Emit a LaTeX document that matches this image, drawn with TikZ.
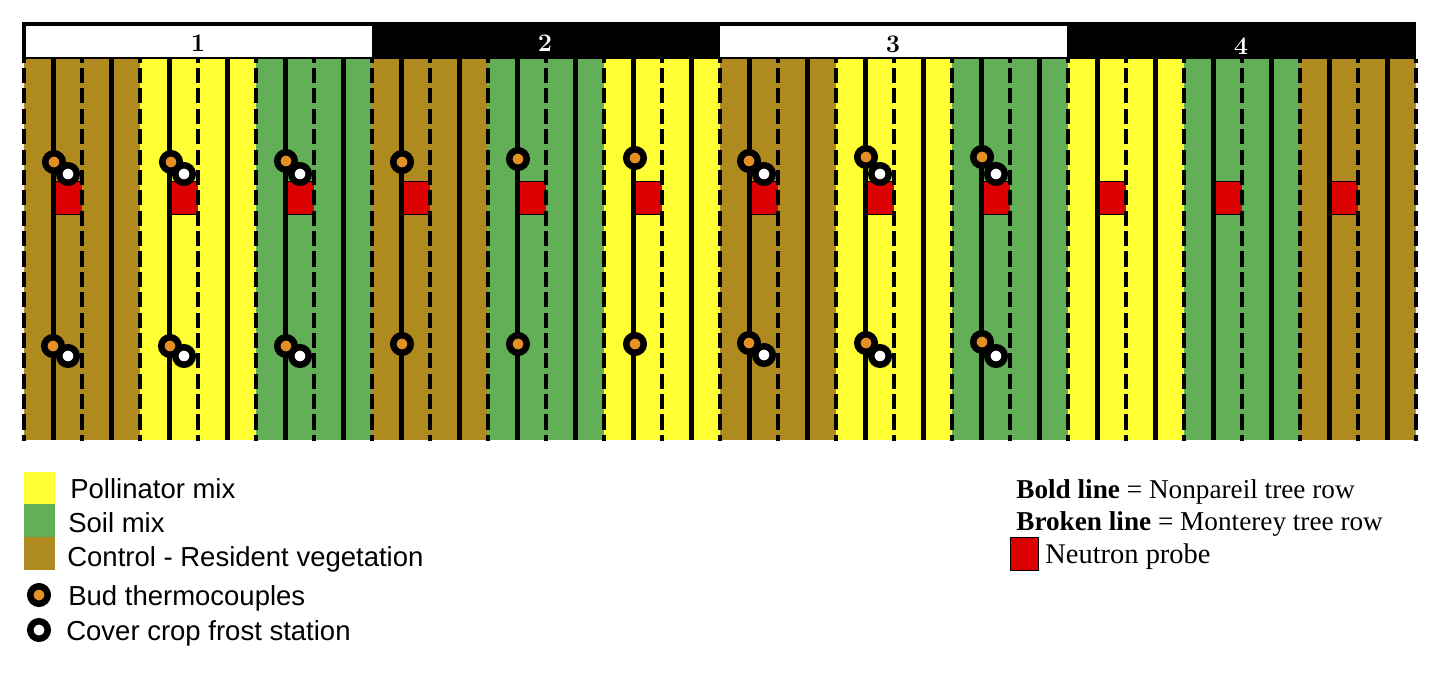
\documentclass[tikz,border=0pt]{standalone}
\usepackage{fontspec}
\usepackage{tikz}
\newfontfamily\legendsans{Liberation Sans}
\newfontfamily\legendserif{Liberation Serif}
\definecolor{controlbrown}{HTML}{AF8A1F}
\definecolor{pollinatoryellow}{HTML}{FFFF33}
\definecolor{soilgreen}{HTML}{62AF58}
\definecolor{probered}{HTML}{DC0000}
\definecolor{budorange}{HTML}{E59025}

\begin{document}
\begin{tikzpicture}[
    x=0.02cm, y=-0.02cm,
    budmark/.style={circle, draw=black, line width=3.7pt, fill=budorange,
                    minimum size=0.35cm, inner sep=0pt, outer sep=0pt},
    frostmark/.style={circle, draw=black, line width=3.7pt, fill=white,
                    minimum size=0.35cm, inner sep=0pt, outer sep=0pt},
    probebox/.style={rectangle, fill=probered,
                    minimum width=0.56cm, minimum height=0.66cm, inner sep=0pt, outer sep=0pt},
    solidrow/.style={black, line width=2.9pt},
    brokenrow/.style={black, line width=2.1pt, dash pattern=on 8.6pt off 3pt, dash phase=6.49pt},
    blocklabel/.style={font=\bfseries\Large, inner sep=0pt},
    sanstext/.style={font=\legendsans\fontsize{15.65}{18}\selectfont, anchor=base west, inner sep=0pt},
    seriftext/.style={font=\legendserif\fontsize{15.5}{18}\selectfont, anchor=base west, inner sep=0pt}
]
    \useasboundingbox (0, 0) rectangle (1437, 687);

    % Block header
    \fill[black] (22, 22) rectangle (1416, 59);
    \fill[white] (25.5, 25.5) rectangle (372, 56.5);
    \fill[white] (720, 25.5) rectangle (1067, 56.5);
    \node[blocklabel, text=black] (blockone) at (198, 43) {\oldstylenums{1}};
    \node[blocklabel, text=white] (blocktwo) at (545, 43.5) {\oldstylenums{2}};
    \node[blocklabel, text=black] (blockthree) at (893, 44) {\oldstylenums{3}};
    \node[blocklabel, text=white] (blockfour) at (1241, 46) {\oldstylenums{4}};

    % Cover crop plots
    \fill[controlbrown] (24, 59) rectangle (140, 440);
    \fill[pollinatoryellow] (140, 59) rectangle (256, 440);
    \fill[soilgreen] (256, 59) rectangle (372, 440);
    \fill[controlbrown] (372, 59) rectangle (488, 440);
    \fill[soilgreen] (488, 59) rectangle (604, 440);
    \fill[pollinatoryellow] (604, 59) rectangle (720, 440);
    \fill[controlbrown] (720, 59) rectangle (836, 440);
    \fill[pollinatoryellow] (836, 59) rectangle (952, 440);
    \fill[soilgreen] (952, 59) rectangle (1068, 440);
    \fill[pollinatoryellow] (1068, 59) rectangle (1184, 440);
    \fill[soilgreen] (1184, 59) rectangle (1300, 440);
    \fill[controlbrown] (1300, 59) rectangle (1416, 440);

    % Neutron probes
    \foreach \px in {68, 184, 300, 416, 532, 648, 764, 880, 996, 1112, 1228, 1344} {
        \node[probebox] (probe\px) at (\px, 197.5) {};
        \draw[black, line width=0.5pt] (probe\px.north west) -- (probe\px.north east);
        \draw[black, line width=0.5pt] (probe\px.south west) -- (probe\px.south east);
    }

    % Tree rows
    \foreach \rx in {53.5, 111.5, ..., 1388}
        \draw[solidrow] (\rx, 59) -- (\rx, 440);
    \foreach \rx in {24, 82, ..., 1416}
        \draw[brokenrow] (\rx, 59) -- (\rx, 441);

    % Upper stations
    \node[budmark] (budA) at (54, 162) {};
    \node[budmark] (budB) at (171, 162) {};
    \node[budmark] (budC) at (286, 161) {};
    \node[budmark] (budD) at (402, 162) {};
    \node[budmark] (budE) at (518, 159) {};
    \node[budmark] (budF) at (635, 158) {};
    \node[budmark] (budG) at (749, 161) {};
    \node[budmark] (budH) at (866, 157) {};
    \node[budmark] (budI) at (982, 157) {};
    \node[frostmark] (frostA) at (68, 174) {};
    \node[frostmark] (frostB) at (184, 174) {};
    \node[frostmark] (frostC) at (300, 174) {};
    \node[frostmark] (frostG) at (764, 174) {};
    \node[frostmark] (frostH) at (880, 174) {};
    \node[frostmark] (frostI) at (996, 174) {};

    % Lower stations
    \node[budmark] (budJ) at (53, 346) {};
    \node[budmark] (budK) at (170, 346) {};
    \node[budmark] (budL) at (286, 346) {};
    \node[budmark] (budM) at (402, 344) {};
    \node[budmark] (budN) at (518, 344) {};
    \node[budmark] (budO) at (635, 344) {};
    \node[budmark] (budP) at (749, 343) {};
    \node[budmark] (budQ) at (866, 343) {};
    \node[budmark] (budR) at (982, 342) {};
    \node[frostmark] (frostJ) at (68, 356) {};
    \node[frostmark] (frostK) at (184, 356) {};
    \node[frostmark] (frostL) at (300, 356) {};
    \node[frostmark] (frostP) at (764, 355) {};
    \node[frostmark] (frostQ) at (880, 356) {};
    \node[frostmark] (frostR) at (996, 356) {};

    % Legend, left
    \fill[pollinatoryellow] (24, 472) rectangle (55, 504);
    \fill[soilgreen] (24, 504) rectangle (55, 537);
    \fill[controlbrown] (24, 537) rectangle (55, 570);
    \node[sanstext] (keypollinator) at (70, 498.5) {Pollinator mix};
    \node[sanstext] (keysoil) at (68, 532.5) {Soil mix};
    \node[sanstext] (keycontrol) at (67, 566) {Control - Resident vegetation};
    \node[budmark] (keybudmark) at (39, 595) {};
    \node[sanstext] (keybud) at (68, 605) {Bud thermocouples};
    \node[frostmark] (keyfrostmark) at (39, 630) {};
    \node[sanstext] (keyfrost) at (66, 640) {Cover crop frost station};

    % Legend, right
    \node[seriftext] (keybold) at (1016, 498) {\textbf{Bold line} = Nonpareil tree row};
    \node[seriftext] (keybroken) at (1016, 530) {\textbf{Broken line} = Monterey tree row};
    \node[probebox, draw=black, minimum width=0.57cm, minimum height=0.66cm, line width=0.8pt] (keyprobe) at (1024.5, 554) {};
    \node[seriftext, font=\legendserif\fontsize{16.2}{18}\selectfont] (keyneutron) at (1045, 563) {Neutron probe};
\end{tikzpicture}
\end{document}
